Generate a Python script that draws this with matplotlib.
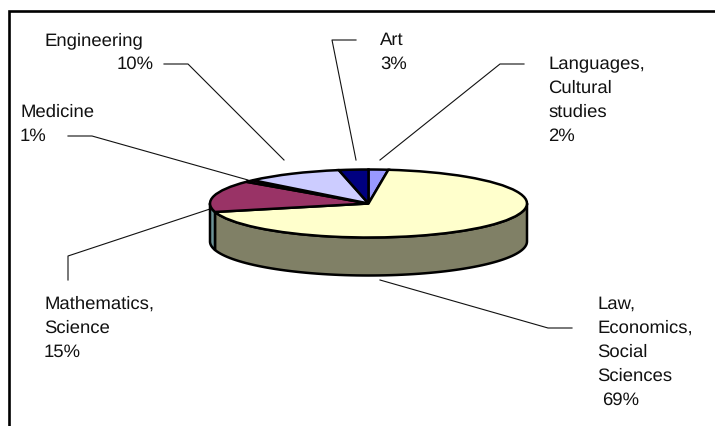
#!/usr/bin/env python
import numpy as np
import matplotlib
matplotlib.use("Agg")
import matplotlib.pyplot as plt

W, H = 715, 427

# clockwise from 12 o'clock
categories = ["Languages, Cultural studies", "Law, Economics, Social Sciences",
              "Mathematics, Science", "Medicine", "Engineering", "Art"]
values = [2, 69, 15, 1, 10, 3]
top_colors = ["#9999FF", "#FFFFCC", "#993366", "#660066", "#CCCCFF", "#000080"]
side_colors = ["#4C4C80", "#808066", "#6C9296", "#330033", "#666680", "#000040"]

# label lines: text, x, baseline (pixels)
label_lines = [
    ("Engineering", 44, 45), ("10%", 117, 69),
    ("Medicine", 20, 117), ("1%", 20, 141),
    ("Art", 380, 45), ("3%", 380, 69),
    ("Languages,", 548, 69), ("Cultural", 548, 93), ("studies", 548, 117), ("2%", 548, 141),
    ("Mathematics,", 44, 309), ("Science", 44, 333), ("15%", 44, 357),
    ("Law,", 597, 309), ("Economics,", 597, 333), ("Social", 597, 357),
    ("Sciences", 597, 381), ("69%", 602, 405),
]

# leader lines in pixels
leaders = [
    [(164, 65), (188, 65), (284, 161)],
    [(68, 137), (92, 137), (248, 181)],
    [(356, 41), (332, 41), (356, 161)],
    [(524, 65), (500, 65), (380, 161)],
    [(572, 329), (548, 329), (380, 281)],
    [(68, 281), (68, 257), (210, 210)],
]

CX, CY, RX, RY = 368.5, 204.5, 158.5, 34
DEPTH = 38 / RY  # in pie units

plt.rcParams["font.family"] = ["Liberation Sans", "DejaVu Sans"]
plt.rcParams["text.hinting"] = "no_hinting"

fig = plt.figure(figsize=(W / 100, H / 100), dpi=100)

# overlay in pixel coordinates, y pointing down
bg = fig.add_axes([0, 0, 1, 1])
bg.set_xlim(0, W)
bg.set_ylim(H, 0)
bg.axis("off")

bg.plot([8.5, 8.5, W], [H, 11.5, 11.5], color="black", lw=1.9, solid_joinstyle="miter")

for pts in leaders:
    xs, ys = zip(*pts)
    bg.plot(xs, ys, color="#111111", lw=0.8)

for txt, x, y in label_lines:
    bg.text(x, y, txt, fontsize=13.3, color="#111111", ha="left", va="baseline")

# pie axes, one data unit = one radius of the ellipse
ax = fig.add_axes([(CX - RX) / W, 1 - (CY + RY) / H, 2 * RX / W, 2 * RY / H])
ax.patch.set_alpha(0)

# side wall of the front half
edges = np.cumsum([0] + values) / sum(values) * 2 * np.pi
for i in range(len(values)):
    a0 = max(edges[i], np.pi / 2)
    a1 = min(edges[i + 1], 3 * np.pi / 2)
    if a1 <= a0:
        continue
    t = np.linspace(a0, a1, 80)
    x = np.sin(t)
    y = np.cos(t)
    ax.fill(np.r_[x, x[::-1]], np.r_[y, y[::-1] - DEPTH], facecolor=side_colors[i],
            edgecolor="black", lw=1.8, clip_on=False, joinstyle="round")

ax.pie(values, colors=top_colors, startangle=90, counterclock=False, radius=1,
       wedgeprops={"edgecolor": "black", "linewidth": 1.8, "clip_on": False})
ax.set_aspect("auto")
ax.set_xlim(-1, 1)
ax.set_ylim(-1, 1)
ax.axis("off")

fig.savefig("out.png", dpi=100)
